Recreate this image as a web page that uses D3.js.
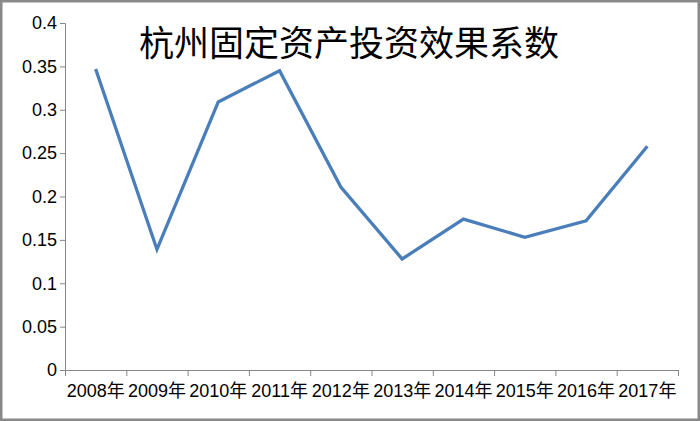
<!DOCTYPE html>
<html><head><meta charset="utf-8">
<script src="https://cdn.jsdelivr.net/npm/d3@7/dist/d3.min.js"></script>
<style>body{margin:0;background:#fff}svg{display:block}</style>
</head><body>
<svg id="c" width="700" height="421"></svg>
<script>
const categories = ["2008年","2009年","2010年","2011年","2012年","2013年","2014年","2015年","2016年","2017年"];
const values = [0.347, 0.139, 0.309, 0.345, 0.211, 0.128, 0.174, 0.153, 0.172, 0.258];
const yTicks = [0, 0.05, 0.1, 0.15, 0.2, 0.25, 0.3, 0.35, 0.4];
const yTickLabels = ["0","0.05","0.1","0.15","0.2","0.25","0.3","0.35","0.4"];
const title = "杭州固定资产投资效果系数";

(function(){
const svg = d3.select("#c");
const W = 700, H = 421;
const mLeft = 65, mRight = 678, mTop = 23, mBottom = 370;
const font = "'Liberation Sans','Noto Sans CJK SC',sans-serif";

svg.append("rect").attr("x",1.25).attr("y",1.25).attr("width",W-2.5).attr("height",H-2.5)
  .attr("fill","#fff").attr("stroke","#898989").attr("stroke-width",2.5);

const x = d3.scaleBand().domain(categories).range([mLeft,mRight]).padding(0);
const y = d3.scaleLinear().domain([0,0.4]).range([mBottom,mTop]);

const yAxis = d3.axisLeft(y).tickValues(yTicks).tickFormat((d,i)=>yTickLabels[i]).tickSize(5).tickPadding(3);
const gy = svg.append("g").attr("transform",`translate(${mLeft},0)`).call(yAxis);
gy.select(".domain").attr("stroke","#868686");
gy.selectAll(".tick line").attr("stroke","#868686");
gy.selectAll("text").attr("font-family",font).attr("font-size",18).attr("fill","#000");

const xAxis = d3.axisBottom(x).tickSizeOuter(0).tickSize(0).tickPadding(14);
const gx = svg.append("g").attr("transform",`translate(0,${mBottom})`).call(xAxis);
gx.select(".domain").attr("stroke","#868686").attr("d",`M${mLeft},0.5H${mRight}`);
gx.selectAll("text").attr("font-family",font).attr("font-size",18).attr("fill","#000");
const bounds = categories.map(c=>x(c)).concat([mRight]);
gx.selectAll(".bt").data(bounds).enter().append("line").attr("class","bt")
  .attr("x1",d=>d+0.5).attr("x2",d=>d+0.5).attr("y1",0).attr("y2",6).attr("stroke","#868686");

const line = d3.line().x((d,i)=>x(categories[i])+x.bandwidth()/2).y(d=>y(d));
svg.append("path").datum(values).attr("d",line).attr("fill","none")
  .attr("stroke","#4A7EBB").attr("stroke-width",3.3).attr("stroke-linejoin","miter");

svg.append("text").attr("x",349).attr("y",56).attr("text-anchor","middle")
  .attr("font-family","'Noto Sans CJK SC',sans-serif").attr("font-size",35).attr("fill","#000").text(title);
})();
</script>
</body></html>
